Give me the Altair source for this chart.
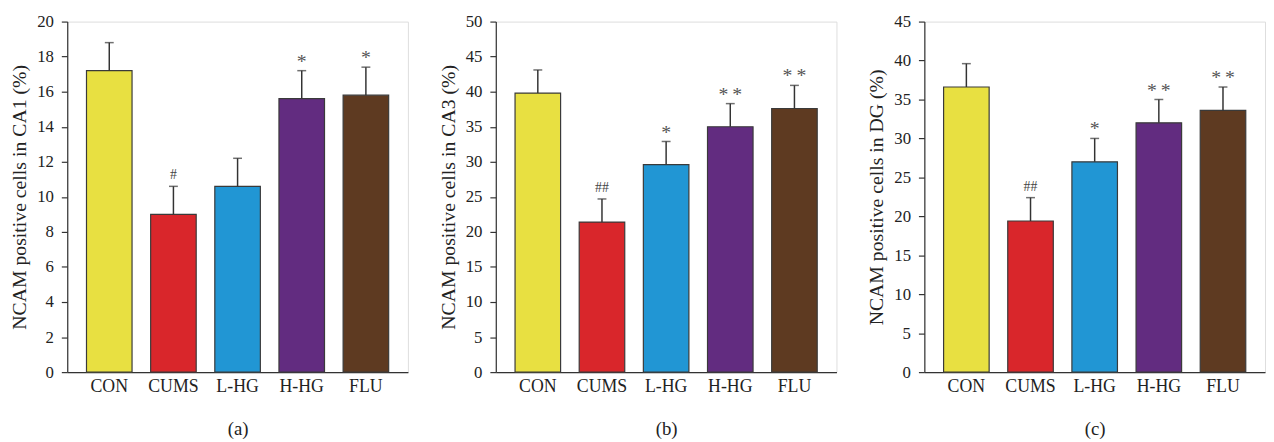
import altair as alt
import pandas as pd

groups = ["CON", "CUMS", "L-HG", "H-HG", "FLU"]
colors = ["#E8E041", "#D9262B", "#2196D4", "#622C80", "#5E3A21"]

ca1_mean = [17.2, 9.0, 10.6, 15.6, 15.8]
ca1_sd = [1.6, 1.6, 1.6, 1.6, 1.6]
ca1_sig = ["", "#", "", "*", "*"]

ca3_mean = [39.8, 21.4, 29.6, 35.0, 37.6]
ca3_sd = [3.3, 3.3, 3.3, 3.3, 3.3]
ca3_sig = ["", "##", "*", "*\u2009*", "*\u2009*"]

dg_mean = [36.6, 19.4, 27.0, 32.0, 33.6]
dg_sd = [3.0, 3.0, 3.0, 3.0, 3.0]
dg_sig = ["", "##", "*", "*\u2009*", "*\u2009*"]

ca1_ticks = [0, 2, 4, 6, 8, 10, 12, 14, 16, 18, 20]
ca3_ticks = [0, 5, 10, 15, 20, 25, 30, 35, 40, 45, 50]
dg_ticks = [0, 5, 10, 15, 20, 25, 30, 35, 40, 45]

FONT = "Liberation Serif"
INK = "#333333"


def panel(mean, sd, sig, ticks, ytitle, caption):
    df = pd.DataFrame({
        "group": groups,
        "mean": mean,
        "top": [m + s for m, s in zip(mean, sd)],
        "sig": sig,
        "kind": ["hash" if "#" in s else ("star" if "*" in s else "none") for s in sig],
    })
    xaxis = alt.Axis(
        title=caption, labelAngle=0, ticks=False, tickSize=0,
        labelFont=FONT, labelFontSize=18, labelColor="#222222", labelPadding=6,
        titleFont=FONT, titleFontSize=19, titleFontWeight="normal",
        titleColor="#222222", titlePadding=24,
        domainColor=INK, domainWidth=1.2,
    )
    xscale = alt.Scale(paddingInner=0.29, paddingOuter=0.3)
    yaxis = alt.Axis(
        title=ytitle, values=ticks, tickCount=len(ticks), grid=False, ticks=True,
        tickSize=6, tickColor=INK, tickWidth=1.2, domainColor=INK, domainWidth=1.2,
        labelOverlap=False,
        labelFont=FONT, labelFontSize=17, labelColor="#222222", labelPadding=8,
        titleFont=FONT, titleFontSize=20, titleFontWeight="normal",
        titleColor="#222222", titlePadding=7,
    )
    yscale = alt.Scale(domain=[ticks[0], ticks[-1]], nice=False)

    def X():
        return alt.X("group:N", sort=groups, scale=xscale, axis=xaxis)

    def Y(field):
        return alt.Y(field, scale=yscale, axis=yaxis, title=ytitle)

    base = alt.Chart(df)
    bars = base.mark_bar(stroke="#3a3a3a", strokeWidth=1.2).encode(
        x=X(),
        y=Y("mean:Q"),
        color=alt.Color("group:N", scale=alt.Scale(domain=groups, range=colors), legend=None),
    )
    rule = base.mark_rule(color=INK, strokeWidth=1.5).encode(
        x=X(), y=Y("mean:Q"), y2="top:Q",
    )
    cap = base.mark_tick(color=INK, size=9, thickness=1.5, orient="horizontal").encode(
        x=X(), y=Y("top:Q"),
    )
    stars = base.transform_filter(alt.datum.kind == "star").mark_text(
        font=FONT, fontSize=20, color="#555555", dy=-3, baseline="alphabetic"
    ).encode(x=X(), y=Y("top:Q"), text="sig:N")
    hashes = base.transform_filter(alt.datum.kind == "hash").mark_text(
        font=FONT, fontSize=14, color="#444444", dy=-7, baseline="alphabetic"
    ).encode(x=X(), y=Y("top:Q"), text="sig:N")
    return alt.layer(bars, rule, cap, stars, hashes).properties(width=345, height=355)


a = panel(ca1_mean, ca1_sd, ca1_sig, ca1_ticks, "NCAM positive cells in CA1 (%)", "(a)")
b = panel(ca3_mean, ca3_sd, ca3_sig, ca3_ticks, "NCAM positive cells in CA3 (%)", "(b)")
c = panel(dg_mean, dg_sd, dg_sig, dg_ticks, "NCAM positive cells in DG (%)", "(c)")

chart = alt.hconcat(a, b, c, spacing=29).properties(
    padding={"left": 1, "top": 1, "right": 0, "bottom": 0}
).configure_view(stroke=None).configure(background="white")

chart.save("out.html", embed_options={"renderer": "svg", "actions": False})
